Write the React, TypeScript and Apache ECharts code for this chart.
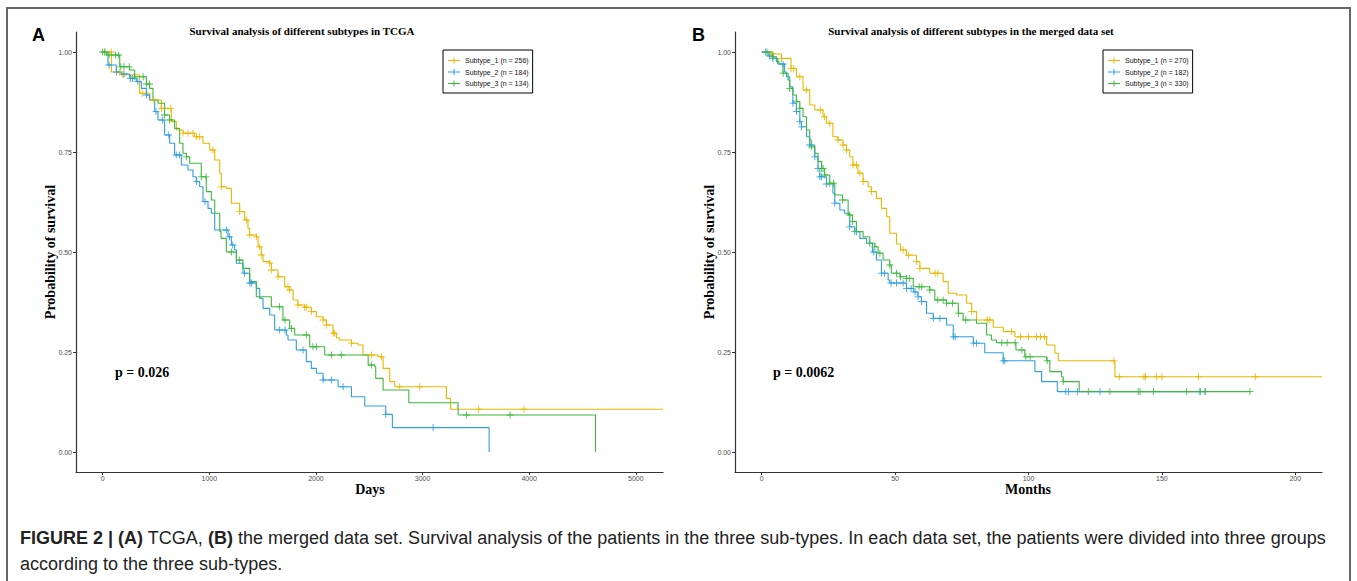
import React, { useEffect, useRef } from "react";
import * as echarts from "echarts";

// ---------- Panel A (TCGA, days) ----------
const namesA = ["Subtype_1 (n = 256)", "Subtype_2 (n = 184)", "Subtype_3 (n = 134)"];
const tA1 = [0, 82, 175, 347, 441, 550, 644, 691, 753, 863, 941, 1004, 1051, 1098, 1113, 1160, 1207, 1285, 1332, 1363, 1379, 1441, 1457, 1488, 1504, 1567, 1582, 1645, 1707, 1754, 1786, 1832, 1895, 1957, 2004, 2067, 2098, 2161, 2192, 2223, 2333, 2395, 2442, 2582, 2630, 2692, 2739, 3224, 3262, 5255];
const sA1 = [1, 0.95, 0.943, 0.897, 0.88, 0.859, 0.826, 0.805, 0.797, 0.788, 0.772, 0.755, 0.73, 0.697, 0.663, 0.659, 0.622, 0.601, 0.58, 0.559, 0.5425, 0.538, 0.513, 0.4925, 0.476, 0.472, 0.455, 0.438, 0.413, 0.405, 0.38, 0.3675, 0.362, 0.351, 0.338, 0.33, 0.3175, 0.297, 0.285, 0.28, 0.272, 0.2675, 0.2425, 0.238, 0.209, 0.176, 0.163, 0.134, 0.107, 0.107];
const cA1 = [20, 80, 160, 190, 370, 480, 550, 640, 753, 800, 847, 878, 910, 1035, 1113, 1285, 1348, 1379, 1441, 1473, 1488, 1567, 1582, 1645, 1738, 1754, 1832, 1895, 1910, 1957, 2067, 2098, 2161, 2176, 2333, 2520, 2614, 2786, 2974, 3527, 3952];

const tA2 = [0, 50, 128, 175, 253, 316, 363, 410, 441, 488, 519, 581, 628, 675, 738, 800, 847, 878, 910, 941, 988, 1019, 1051, 1176, 1207, 1238, 1254, 1316, 1379, 1441, 1473, 1504, 1567, 1613, 1722, 1738, 1816, 1910, 1957, 2004, 2067, 2208, 2333, 2458, 2655, 2717, 3624];
const sA2 = [1, 0.9675, 0.95, 0.945, 0.934, 0.926, 0.909, 0.8925, 0.88, 0.851, 0.83, 0.7925, 0.772, 0.7425, 0.7175, 0.705, 0.688, 0.676, 0.663, 0.626, 0.609, 0.597, 0.555, 0.538, 0.5175, 0.505, 0.472, 0.447, 0.4225, 0.409, 0.384, 0.359, 0.3425, 0.305, 0.2925, 0.28, 0.255, 0.226, 0.209, 0.197, 0.18, 0.163, 0.138, 0.115, 0.094, 0.061, 0];
const cA2 = [60, 130, 200, 260, 280, 330, 410, 500, 560, 620, 690, 720, 880, 960, 1160, 1190, 1220, 1330, 1380, 1395, 1660, 1710, 1879, 2067, 2145, 2255, 2655, 3099];

const tA3 = [0, 35, 160, 253, 300, 410, 441, 472, 519, 581, 628, 675, 722, 753, 785, 816, 925, 972, 1019, 1051, 1098, 1110, 1160, 1254, 1316, 1379, 1441, 1582, 1691, 1754, 1801, 1942, 2082, 2490, 2552, 2561, 2630, 2871, 3333, 4622];
const sA3 = [1, 0.9925, 0.963, 0.955, 0.938, 0.92, 0.909, 0.88, 0.872, 0.8425, 0.83, 0.809, 0.772, 0.747, 0.738, 0.722, 0.688, 0.651, 0.63, 0.597, 0.551, 0.534, 0.5, 0.48, 0.459, 0.426, 0.388, 0.363, 0.33, 0.309, 0.2925, 0.263, 0.2425, 0.2175, 0.213, 0.184, 0.155, 0.123, 0.0925, 0];
const cA3 = [0, 20, 60, 120, 150, 170, 200, 250, 300, 380, 410, 440, 581, 628, 785, 925, 970, 1207, 1285, 1660, 1710, 1770, 1910, 1972, 2004, 2145, 2238, 2520, 3411, 3821];

// ---------- Panel B (merged, months) ----------
const namesB = ["Subtype_1 (n = 270)", "Subtype_2 (n = 182)", "Subtype_3 (n = 330)"];
const tB1 = [0, 3, 7.4, 11, 13, 15.5, 18, 19.9, 23, 24.3, 26.7, 28.6, 30.5, 31.8, 33, 34.2, 36.1, 38, 39.9, 41.1, 43, 44.9, 46.8, 48, 50.5, 52, 54.3, 58, 59.3, 63, 68, 69.9, 73, 76.8, 78.7, 80.5, 86.8, 90.5, 94.9, 106.8, 109.9, 111.2, 132.4, 210];
const sB1 = [1, 0.995, 0.984, 0.959, 0.938, 0.905, 0.8675, 0.855, 0.838, 0.822, 0.788, 0.78, 0.7675, 0.755, 0.738, 0.7175, 0.697, 0.676, 0.663, 0.651, 0.634, 0.609, 0.588, 0.547, 0.52, 0.505, 0.492, 0.476, 0.459, 0.447, 0.426, 0.397, 0.3925, 0.372, 0.351, 0.33, 0.312, 0.301, 0.288, 0.2675, 0.247, 0.228, 0.188, 0.188];
const cB1 = [3.6, 7.4, 11, 12, 14.3, 16.8, 22, 23.5, 25.5, 28.6, 30.5, 31.8, 34.2, 35.5, 36.8, 38, 41.1, 53, 55, 58, 59.3, 65, 66, 78.7, 84.5, 85.5, 93.7, 97, 100, 103, 104.5, 106, 132, 134, 143.3, 143.8, 147.9, 150, 163.7, 185];

const tB2 = [0, 2.4, 4.2, 6, 8.6, 9.3, 10.5, 11.7, 13, 14.3, 14.9, 16.8, 18, 19.9, 21.1, 21.8, 24.3, 26.7, 27.4, 29.3, 31.1, 33, 34.9, 36.8, 39.3, 41.5, 43, 44.9, 47.4, 48, 54.3, 57, 58.6, 59.9, 61.8, 64.3, 69.3, 71.8, 79.3, 83.6, 90.5, 102.4, 104.9, 110.8, 166.2];
const sB2 = [1, 0.99, 0.984, 0.97, 0.95, 0.938, 0.913, 0.872, 0.851, 0.826, 0.813, 0.788, 0.7675, 0.738, 0.709, 0.688, 0.67, 0.647, 0.622, 0.605, 0.597, 0.563, 0.551, 0.534, 0.522, 0.5, 0.48, 0.447, 0.43, 0.4225, 0.409, 0.4, 0.388, 0.376, 0.347, 0.334, 0.3175, 0.288, 0.272, 0.248, 0.228, 0.201, 0.176, 0.151, 0.151];
const cB2 = [1.5, 3, 4.2, 8, 11.7, 13, 14.3, 14.9, 18, 19.9, 21.1, 21.8, 22.5, 24.3, 27.4, 33, 34.9, 42, 44.9, 46, 48.5, 50.5, 53, 54.3, 56, 57.5, 58.6, 59.9, 64.3, 66.8, 71.8, 72.5, 79.3, 80.5, 90.5, 91.1, 114, 115, 118.3, 126.8, 164.3, 166.2];

const tB3 = [0, 4.2, 5.5, 6.5, 8, 9.9, 10.5, 11.7, 13, 14.3, 15.5, 16.8, 18, 18.6, 19.9, 21.1, 22.5, 23.6, 25.5, 27.4, 30.3, 32.4, 34, 35.5, 38, 40.5, 42.4, 43.6, 45.5, 48, 48.6, 51.8, 54.3, 56.8, 63, 64.9, 69.3, 73.7, 75.5, 80.5, 84.3, 86.1, 88, 95.3, 98.6, 106.8, 108, 112.4, 113, 119, 183];
const sB3 = [1, 0.988, 0.976, 0.97, 0.947, 0.93, 0.909, 0.8925, 0.876, 0.859, 0.838, 0.805, 0.78, 0.763, 0.747, 0.726, 0.709, 0.6925, 0.672, 0.6425, 0.63, 0.5925, 0.576, 0.551, 0.538, 0.522, 0.513, 0.497, 0.48, 0.4675, 0.447, 0.438, 0.434, 0.413, 0.405, 0.38, 0.372, 0.347, 0.33, 0.322, 0.2925, 0.28, 0.273, 0.255, 0.238, 0.228, 0.201, 0.188, 0.176, 0.151, 0.151];
const cB3 = [2, 4.2, 8, 10.5, 13, 14.3, 18.6, 22.5, 23, 23.6, 25.5, 27, 30.3, 33, 34, 35.5, 40.5, 42.4, 44.3, 48, 50.5, 52, 54.3, 55.5, 59, 60, 63, 66, 68, 69.3, 71.5, 73.7, 76.5, 90, 92, 95, 97.5, 99, 100.6, 107, 113, 122.4, 130.5, 141.1, 141.8, 146.8, 159.3, 164.3, 166.2, 183];

const xTicksA = [0, 1000, 2000, 3000, 4000, 5000];
const xTicksB = [0, 50, 100, 150, 200];
const yTicks = [0, 0.25, 0.5, 0.75, 1];
const colors = ["#E7B800", "#2E9FDF", "#3DB83D"];

const PLUS = "path://M4.4,0H5.6V4.4H10V5.6H5.6V10H4.4V5.6H0V4.4H4.4Z";
const LEGEND_ICON = "path://M0,3H12V4H0Z M5.5,0.5H6.5V6.5H5.5Z";

function survAt(ts: number[], ss: number[], c: number) {
  let v = ss[0];
  for (let i = 0; i < ts.length; i++) if (ts[i] <= c) v = ss[i];
  return v;
}

function curve(idx: number, name: string, color: string, ts: number[], ss: number[], cs: number[]) {
  return [
    {
      type: "line",
      name,
      xAxisIndex: idx,
      yAxisIndex: idx,
      step: "end",
      showSymbol: false,
      symbol: "none",
      lineStyle: { color, width: 1.1 },
      itemStyle: { color },
      data: ts.map((t, i) => [t, ss[i]]),
      z: 3,
    },
    {
      type: "scatter",
      name: name + " censor",
      xAxisIndex: idx,
      yAxisIndex: idx,
      symbol: PLUS,
      symbolSize: 7,
      itemStyle: { color, opacity: 1 },
      data: cs.map((c) => [c, survAt(ts, ss, c)]),
      z: 4,
    },
  ];
}

function xAxis(idx: number, min: number, max: number, ticks: number[]) {
  return {
    type: "value",
    gridIndex: idx,
    min,
    max,
    axisLine: { show: true, onZero: false, lineStyle: { color: "#333", width: 1.2 } },
    axisTick: { show: true, customValues: ticks, length: 3, lineStyle: { color: "#333" } },
    axisLabel: {
      customValues: ticks,
      fontSize: 7,
      color: "#4d4d4d",
      margin: 3,
      fontFamily: "Liberation Sans, Arial",
      formatter: (v: number) => String(v),
    },
    splitLine: { show: false },
  };
}
function yAxis(idx: number) {
  return {
    type: "value",
    gridIndex: idx,
    min: -0.05,
    max: 1.05,
    axisLine: { show: true, onZero: false, lineStyle: { color: "#333", width: 1.2 } },
    axisTick: { show: true, customValues: yTicks, length: 3, lineStyle: { color: "#333" } },
    axisLabel: {
      customValues: yTicks,
      fontSize: 7,
      color: "#4d4d4d",
      margin: 4,
      fontFamily: "Liberation Sans, Arial",
      formatter: (v: number) => v.toFixed(2),
    },
    splitLine: { show: false },
  };
}

function legend(left: number, names: string[]) {
  return {
    left,
    top: 50,
    orient: "vertical",
    selectedMode: false,
    borderColor: "#000",
    borderWidth: 1,
    padding: [7, 4, 6, 5],
    itemGap: 4.5,
    itemWidth: 12,
    itemHeight: 7,
    itemTextGap: 1,
    textStyle: { fontSize: 7, color: "#111", fontFamily: "Liberation Sans, Arial" },
    data: names.map((n, i) => ({ name: n, icon: LEGEND_ICON, itemStyle: { color: colors[i] } })),
  };
}

const serif = "Liberation Serif, Times New Roman, serif";

function buildOption() {
  return {
    animation: false,
    backgroundColor: "#fff",
    grid: [
      { left: 76, top: 32, width: 587, height: 440 },
      { left: 735, top: 32, width: 587, height: 440 },
    ],
    xAxis: [xAxis(0, -250, 5255, xTicksA), xAxis(1, -10, 210, xTicksB)],
    yAxis: [yAxis(0), yAxis(1)],
    legend: [legend(443, namesA), legend(1103, namesB)],
    series: [
      ...curve(0, namesA[0], colors[0], tA1, sA1, cA1),
      ...curve(0, namesA[1], colors[1], tA2, sA2, cA2),
      ...curve(0, namesA[2], colors[2], tA3, sA3, cA3),
      ...curve(1, namesB[0], colors[0], tB1, sB1, cB1),
      ...curve(1, namesB[1], colors[1], tB2, sB2, cB2),
      ...curve(1, namesB[2], colors[2], tB3, sB3, cB3),
    ],
    graphic: [
      { type: "rect", shape: { x: 7, y: 8, width: 1343, height: 600 }, style: { fill: "none", stroke: "#666", lineWidth: 2 }, silent: true },
      { type: "text", x: 32, y: 35, style: { text: "A", font: "bold 18px Liberation Sans, Arial", fill: "#000", verticalAlign: "middle" } },
      { type: "text", x: 692, y: 35, style: { text: "B", font: "bold 18px Liberation Sans, Arial", fill: "#000", verticalAlign: "middle" } },
      { type: "text", x: 302, y: 31, style: { text: "Survival analysis of different subtypes in TCGA", font: "bold 11px " + serif, fill: "#000", align: "center", verticalAlign: "middle" } },
      { type: "text", x: 971, y: 31, style: { text: "Survival analysis of different subtypes in the merged data set", font: "bold 11px " + serif, fill: "#000", align: "center", verticalAlign: "middle" } },
      { type: "text", x: 50, y: 252, rotation: Math.PI / 2, style: { text: "Probability of survival", font: "bold 14px " + serif, fill: "#000", align: "center", verticalAlign: "middle" } },
      { type: "text", x: 709, y: 252, rotation: Math.PI / 2, style: { text: "Probability of survival", font: "bold 14px " + serif, fill: "#000", align: "center", verticalAlign: "middle" } },
      { type: "text", x: 370, y: 489, style: { text: "Days", font: "bold 14px " + serif, fill: "#000", align: "center", verticalAlign: "middle" } },
      { type: "text", x: 1028, y: 489, style: { text: "Months", font: "bold 14px " + serif, fill: "#000", align: "center", verticalAlign: "middle" } },
      { type: "text", x: 115, y: 372, style: { text: "p = 0.026", font: "bold 14px " + serif, fill: "#000", verticalAlign: "middle" } },
      { type: "text", x: 773, y: 372, style: { text: "p = 0.0062", font: "bold 14px " + serif, fill: "#000", verticalAlign: "middle" } },
      {
        type: "text",
        x: 20,
        y: 538,
        style: {
          text: "{b|FIGURE 2 | (A)}{n| TCGA, }{b|(B)}{n| the merged data set. Survival analysis of the patients in the three sub-types. In each data set, the patients were divided into three groups}",
          verticalAlign: "middle",
          rich: {
            b: { font: "bold 18px Liberation Sans, Arial", fill: "#222" },
            n: { font: "18px Liberation Sans, Arial", fill: "#222" },
          },
        },
      },
      { type: "text", x: 20, y: 564, style: { text: "according to the three sub-types.", font: "18px Liberation Sans, Arial", fill: "#222", verticalAlign: "middle" } },
    ],
  };
}

export default function App() {
  const ref = useRef<HTMLDivElement>(null);
  useEffect(() => {
    const chart = echarts.init(ref.current as HTMLDivElement, null, { renderer: "svg" });
    chart.setOption(buildOption() as any);
    return () => chart.dispose();
  }, []);
  return (
    <div
      ref={ref}
      style={{ position: "fixed", left: 0, top: 0, width: 1357, height: 581, background: "#fff" }}
    />
  );
}
